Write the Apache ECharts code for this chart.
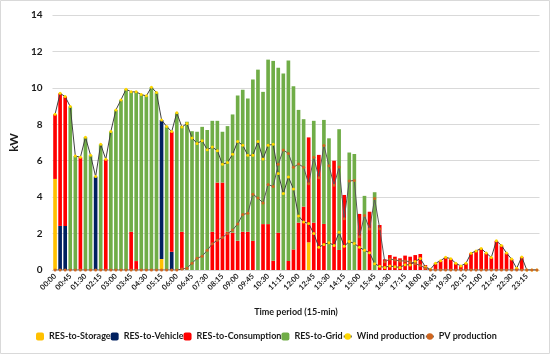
<!DOCTYPE html>
<html><head><meta charset="utf-8">
<script src="https://cdn.jsdelivr.net/npm/echarts@6/dist/echarts.min.js"></script>
<style>html,body{margin:0;padding:0;background:#fff}#c{width:550px;height:354px}</style>
</head><body><div id="c"></div>
<script>
const categories = ["00:00","00:15","00:30","00:45","01:00","01:15","01:30","01:45","02:00","02:15","02:30","02:45",
"03:00","03:15","03:30","03:45","04:00","04:15","04:30","04:45","05:00","05:15","05:30","05:45",
"06:00","06:15","06:30","06:45","07:00","07:15","07:30","07:45","08:00","08:15","08:30","08:45",
"09:00","09:15","09:30","09:45","10:00","10:15","10:30","10:45","11:00","11:15","11:30","11:45",
"12:00","12:15","12:30","12:45","13:00","13:15","13:30","13:45","14:00","14:15","14:30","14:45",
"15:00","15:15","15:30","15:45","16:00","16:15","16:30","16:45","17:00","17:15","17:30","17:45",
"18:00","18:15","18:30","18:45","19:00","19:15","19:30","19:45","20:00","20:15","20:30","20:45",
"21:00","21:15","21:30","21:45","22:00","22:15","22:30","22:45","23:00","23:15","23:30","23:45"];

const resToStorage = [5.0,0,0,0,0,0,0,0,0,0,0,0, 0,0,0,0,0,0,0,0,0,0.6,0,0,
0,0,0,0,0,0,0,0,0,0,0,0, 0,0,0,0,0,0,0,0,0,0,0,0, 0,0,1.52,0,0,0,0,0,0,0,0,0,
0,0,0,0,0,0,0,0,0,0,0,0, 0,0,0,0,0,0,0,0,0,0,0,0, 0,0,0,0,0,0,0,0,0,0,0,0];

const resToVehicle = [0,2.42,2.42,0,0,0,0,0,5.13,0,0,0, 0,0,0,0,0,0,0,0,0,7.64,0,1.0,
0,0,0,0,0,0,0,0,0,0,0,0, 0,0,0,0,0,0,0,0,0,0,0,0, 0,0,0,0,0,0,0,0,0,0,0,0,
0,0,0,0,0,0,0,0,0,0,0,0, 0,0,0,0,0,0,0,0,0,0,0,0, 0,0,0,0,0,0,0,0,0,0,0,0];

const resToConsumption = [3.55,7.28,7.1,0,0,6.19,0,0,0,0,6.08,0, 0,0,0,2.1,0.49,0,0,0,0,0,0,6.6,
0,2.1,0,0,0,0,0,2.1,4.8,4.8,2.1,2.05, 1.6,2.1,2.1,1.6,0,2.52,2.52,0.51,2.05,0,0.5,1.13,
2.6,3.48,5.76,2.6,6.32,2.53,0,6.0,1.1,4.12,0,0, 3.08,0,3.2,0,2.47,0.59,0.82,0.73,0.64,0.79,0.73,0.82,
0.88,0.27,0.04,0.37,0.51,0.7,0.62,0.37,0.22,0.37,0.92,1.05, 1.18,0.93,0.69,1.6,1.35,0.93,0.6,0.09,0.72,0,0,0];

const resToGrid = [0,0,0,8.97,6.26,0,7.29,6.3,0,6.9,0,7.6, 8.79,9.34,9.93,7.68,9.29,9.63,9.56,10.04,9.74,0,7.88,0,
8.63,5.8,8.14,7.62,7.59,7.86,7.68,6.09,3.39,2.79,5.8,6.49, 7.98,7.8,7.31,8.86,11.0,7.26,9.03,10.97,9.05,10.79,11.0,8.96,
6.19,4.8,0,5.59,0,5.71,7.23,0,6.63,0,6.45,6.37, 0,4.07,0,4.27,0,0,0,0,0,0,0,0,
0,0,0,0,0,0,0,0,0,0,0,0, 0,0,0,0,0,0,0,0,0,0,0,0];

const windProduction = [8.55,9.7,9.52,8.97,6.26,6.19,7.29,6.3,5.13,6.9,6.08,7.6, 8.79,9.34,9.93,9.78,9.78,9.63,9.56,10.04,9.74,8.24,7.88,7.6,
8.63,7.85,8.04,7.25,6.95,7.1,6.6,6.75,6.55,5.8,5.9,6.35, 7.05,6.85,6.3,6.3,7.05,6.1,6.85,6.9,5.3,4.2,5.1,4.45,
2.97,2.64,2.55,2.0,1.25,1.4,1.5,1.35,2.07,1.3,1.57,1.45, 1.25,1.08,0.95,0.35,0.2,0.14,0.22,0.18,0.14,0.29,0.28,0.47,
0.63,0.17,0.04,0.37,0.51,0.7,0.62,0.37,0.22,0.37,0.92,1.05, 1.18,0.93,0.69,1.6,1.35,0.93,0.6,0.09,0.72,0,0,0];

const pvProduction = [0,0,0,0,0,0,0,0,0,0,0,0, 0,0,0,0,0,0,0,0,0,0,0,0,
0,0.05,0.1,0.37,0.64,0.76,1.08,1.44,1.64,1.79,2.0,2.19, 2.53,3.05,3.11,4.16,3.95,3.68,4.7,4.58,5.8,6.59,6.4,5.64,
5.82,5.64,4.73,6.19,5.07,6.84,5.73,4.65,5.66,2.82,4.88,4.92, 1.83,2.99,2.25,3.92,2.27,0.45,0.6,0.55,0.5,0.5,0.45,0.35,
0.25,0.1,0,0,0,0,0,0,0,0,0,0, 0,0,0,0,0,0,0,0,0,0,0,0];

const yTicks = {min:0, max:14, interval:2};

const F = 'Lato, "Open Sans", sans-serif';
const chart = echarts.init(document.getElementById('c'));
const barBase = {type:'bar', stack:'res', barWidth:'72%', z:2};
chart.setOption({
  animation:false,
  graphic:[{type:'rect', shape:{x:0.5,y:0.5,width:549,height:353}, style:{fill:'none',stroke:'#d9d9d9',lineWidth:1}, silent:true}],
  grid:{left:35, right:10.5, top:15, bottom:84},
  xAxis:{type:'category', data:categories,
    axisLine:{lineStyle:{color:'#d9d9d9'}}, axisTick:{show:false},
    axisLabel:{interval:2, rotate:45, fontSize:7.5, fontWeight:'bold', color:'#1a1a1a', fontFamily:F, margin:5},
    name:'Time period (15-min)', nameLocation:'middle', nameGap:38,
    nameTextStyle:{fontSize:9, fontWeight:'bold', color:'#1a1a1a', fontFamily:F}},
  yAxis:{type:'value', min:yTicks.min, max:yTicks.max, interval:yTicks.interval,
    axisLine:{show:false}, axisTick:{show:false},
    splitLine:{lineStyle:{color:'#d9d9d9'}},
    axisLabel:{fontSize:10, fontWeight:'bold', color:'#1a1a1a', fontFamily:F, margin:10},
    name:'kW', nameLocation:'middle', nameGap:22,
    nameTextStyle:{fontSize:12, fontWeight:'bold', color:'#1a1a1a', fontFamily:F}},
  legend:{left:31, bottom:8, itemWidth:8, itemHeight:8, itemGap:0,
    textStyle:{fontSize:9, fontWeight:'bold', fontFamily:F, color:'#1a1a1a'},
    data:['RES-to-Storage','RES-to-Vehicle','RES-to-Consumption','RES-to-Grid','Wind production','PV production']},
  series:[
    Object.assign({name:'RES-to-Storage', data:resToStorage, itemStyle:{color:'#FFC000'}}, barBase),
    Object.assign({name:'RES-to-Vehicle', data:resToVehicle, itemStyle:{color:'#002060'}}, barBase),
    Object.assign({name:'RES-to-Consumption', data:resToConsumption, itemStyle:{color:'#FF0000'}}, barBase),
    Object.assign({name:'RES-to-Grid', data:resToGrid, itemStyle:{color:'#70AD47'}}, barBase),
    {name:'Wind production', type:'line', data:windProduction, z:5, symbol:'circle', symbolSize:3,
      lineStyle:{color:'#404040', width:1}, itemStyle:{color:'#FFD700'}},
    {name:'PV production', type:'line', data:pvProduction, z:6, symbol:'circle', symbolSize:3,
      lineStyle:{color:'#595959', width:1}, itemStyle:{color:'#D0661F'}}
  ]
});
</script></body></html>
